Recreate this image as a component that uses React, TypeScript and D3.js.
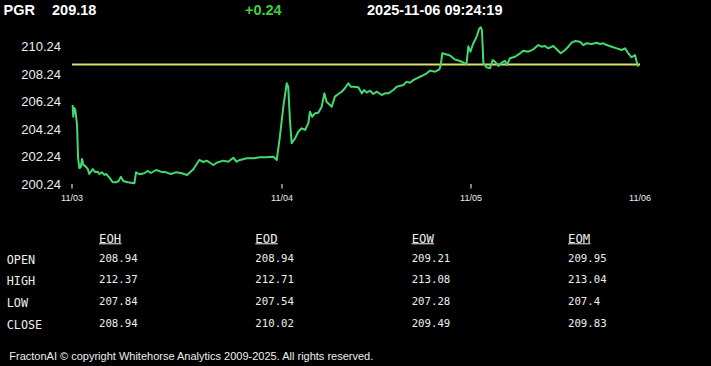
import React from "react";
import * as d3 from "d3";

const symbol = "PGR";
const lastPrice = "209.18";
const change = "+0.24";
const timestamp = "2025-11-06 09:24:19";
const openRef = 208.94;

const yTicks = [200.24, 202.24, 204.24, 206.24, 208.24, 210.24];
const dayLabels = ["11/03", "11/04", "11/05", "11/06"];
const dayTickShown = [true, true, true, false];

// time in trading-day units (0 = 11/03 ... 3 = 11/06)
const times = [
  0.003, 0.006, 0.011, 0.016, 0.024, 0.029, 0.035, 0.041, 0.048, 0.054, 0.063, 0.075, 0.082, 0.099, 0.11, 0.122,
  0.13, 0.143, 0.154, 0.162, 0.178, 0.194, 0.21, 0.222, 0.233, 0.244, 0.265, 0.297, 0.305, 0.321, 0.344, 0.36,
  0.376, 0.4, 0.424, 0.448, 0.471, 0.495, 0.519, 0.548, 0.578, 0.606, 0.625, 0.641, 0.657, 0.673, 0.689, 0.72,
  0.744, 0.768, 0.784, 0.8, 0.832, 0.863, 0.895, 0.927, 0.959, 0.975, 0.99,
  1.007, 1.025, 1.033, 1.042, 1.051, 1.069, 1.086, 1.104, 1.122, 1.139, 1.148, 1.16, 1.175, 1.192, 1.21, 1.224,
  1.236, 1.254, 1.263, 1.28, 1.298, 1.316, 1.333, 1.351, 1.364, 1.378, 1.404, 1.422, 1.434, 1.448, 1.466, 1.483,
  1.501, 1.528, 1.545, 1.563, 1.589, 1.607, 1.642, 1.66, 1.677, 1.695, 1.713, 1.739, 1.766, 1.783, 1.81, 1.833,
  1.84, 1.848, 1.871, 1.889, 1.915, 1.942, 1.968, 1.976, 1.986, 1.997,
  2.012, 2.033, 2.048, 2.058, 2.065, 2.074, 2.093, 2.113, 2.129, 2.143, 2.163, 2.183, 2.202, 2.213, 2.232, 2.262,
  2.292, 2.311, 2.341, 2.371, 2.401, 2.421, 2.44, 2.46, 2.49, 2.51, 2.534, 2.56, 2.579, 2.599, 2.619, 2.649,
  2.668, 2.689, 2.718, 2.748, 2.768, 2.788, 2.808, 2.838, 2.867, 2.897, 2.917, 2.936, 2.956, 2.976, 2.986, 2.996,
];

const prices = [
  206.0, 205.15, 205.79, 205.64, 204.55, 202.15, 201.42, 201.45, 202.08, 201.64, 201.57, 201.35, 200.99, 201.35, 201.13, 201.16,
  200.99, 201.11, 200.92, 200.99, 200.72, 200.39, 200.39, 200.48, 200.79, 200.48, 200.39, 200.31, 201.11, 200.97, 201.04, 201.21,
  201.06, 201.28, 201.16, 201.11, 200.99, 201.11, 201.06, 200.92, 201.33, 202.01, 201.86, 201.96, 201.81, 201.64, 201.81, 201.96,
  201.88, 202.17, 201.88, 202.01, 202.13, 202.13, 202.2, 202.2, 202.25, 202.01, 203.7,
  205.88, 207.58, 207.33, 204.91, 203.22, 203.58, 204.06, 204.31, 204.19, 204.67, 205.52, 205.15, 205.4, 205.44, 205.88, 206.85,
  206.24, 206.0, 205.88, 206.61, 206.8, 206.97, 207.22, 207.58, 207.33, 207.33, 207.29, 206.85, 207.09, 206.9, 207.04, 206.8,
  206.97, 206.73, 206.85, 206.85, 207.09, 207.33, 207.46, 207.7, 207.62, 207.82, 207.94, 208.11, 208.31, 208.5, 208.42, 208.6,
  208.91, 209.76, 209.67, 209.6, 209.31, 209.2, 209.03, 208.98, 210.27, 209.88,
  210.44, 210.94, 211.53, 211.65, 211.45, 209.03, 208.74, 208.67, 209.27, 209.15, 208.84, 209.08, 209.22, 208.91, 209.4, 209.51,
  209.76, 209.95, 209.88, 210.05, 210.36, 210.24, 210.29, 210.12, 210.29, 210.05, 209.76, 210.0, 210.24, 210.53, 210.65, 210.6,
  210.36, 210.49, 210.44, 210.53, 210.44, 210.49, 210.36, 210.24, 210.12, 210.0, 210.12, 209.76, 209.47, 209.64, 209.15, 208.79,
];

const tableCols = ["EOH", "EOD", "EOW", "EOM"];
const tableRows = ["OPEN", "HIGH", "LOW", "CLOSE"];
const eohValues = ["208.94", "212.37", "207.84", "208.94"];
const eodValues = ["208.94", "212.71", "207.54", "210.02"];
const eowValues = ["209.21", "213.08", "207.28", "209.49"];
const eomValues = ["209.95", "213.04", "207.4", "209.83"];
const tableValues = [eohValues, eodValues, eowValues, eomValues];

const footer = "FractonAI \u00A9 copyright Whitehorse Analytics 2009-2025. All rights reserved.";

export default function App() {
  const W = 711;
  const H = 366;
  const x = d3.scaleLinear().domain([0, 1, 2, 3]).range([72, 282, 471, 639]);
  const y = d3.scaleLinear().domain([200.24, 210.24]).range([184.3, 46.7]);
  const pts = times.map((t, i) => [t, prices[i]] as [number, number]);
  const line = d3
    .line<[number, number]>()
    .x((d) => x(d[0]))
    .y((d) => y(d[1]))
    .curve(d3.curveLinear);

  const colX = d3.scalePoint<string>().domain(tableCols).range([99, 568]);
  const rowY = d3.scalePoint<string>().domain(tableRows).range([259.5, 324.5]);

  const sans = "'Liberation Sans', Arial, sans-serif";
  const mono = "'DejaVu Sans Mono', 'Liberation Mono', monospace";

  return (
    <div style={{ position: "fixed", left: 0, top: 0, width: W, height: H, background: "#000" }}>
      <svg width={W} height={H} style={{ display: "block" }}>
        <rect x={0} y={0} width={W} height={H} fill="#000" />
        {/* header */}
        <g fontFamily={sans} fontWeight="bold" fontSize={14.5} fill="#fff">
          <text x={3.5} y={14.5}>{symbol}</text>
          <text x={52} y={14.5}>{lastPrice}</text>
          <text x={245} y={14.5} fill="#3fcf3f">{change}</text>
          <text x={367} y={14.5}>{timestamp}</text>
        </g>
        {/* y labels */}
        <g fontFamily={sans} fontSize={13} fill="#eee" textAnchor="end">
          {yTicks.map((v) => (
            <text key={v} x={61} y={y(v)} dominantBaseline="central">
              {v.toFixed(2)}
            </text>
          ))}
        </g>
        {/* x ticks */}
        <g fontFamily={sans} fontSize={9} fill="#eee" textAnchor="middle">
          {dayLabels.map((d, i) => (
            <g key={d}>
              {dayTickShown[i] && (
                <line x1={x(i)} x2={x(i)} y1={184} y2={188.5} stroke="#fff" strokeWidth={1} />
              )}
              <text x={x(i) + (i === 3 ? 1 : 0)} y={197.5} dominantBaseline="central">
                {d}
              </text>
            </g>
          ))}
        </g>
        {/* reference line */}
        <line x1={x(0)} x2={x(3) + 1} y1={y(openRef)} y2={y(openRef)} stroke="#dbe266" strokeWidth={2} />
        {/* price line */}
        <path d={line(pts) || ""} fill="none" stroke="#43d872" strokeWidth={2} strokeLinejoin="round" />
        {/* table */}
        <g fontFamily={mono} fill="#eee">
          {tableCols.map((c) => (
            <g key={c}>
              <text x={colX(c)} y={238.5} fontSize={12.3} dominantBaseline="central">{c}</text>
              <line x1={colX(c)} x2={(colX(c) as number) + 22.5} y1={243.8} y2={243.8} stroke="#eee" strokeWidth={1} />
            </g>
          ))}
          {tableRows.map((r, ri) => (
            <g key={r}>
              <text x={6.7} y={rowY(r)} fontSize={11.8} dominantBaseline="central">{r}</text>
              {tableCols.map((c, ci) => (
                <text key={c} x={colX(c)} y={(rowY(r) as number) - 1.2} fontSize={10.7} dominantBaseline="central">
                  {tableValues[ci][ri]}
                </text>
              ))}
            </g>
          ))}
        </g>
        {/* footer */}
        <text x={9.3} y={356} fontFamily={sans} fontSize={11} fill="#eee" dominantBaseline="central" textLength={364} lengthAdjust="spacingAndGlyphs">
          {footer}
        </text>
      </svg>
    </div>
  );
}
